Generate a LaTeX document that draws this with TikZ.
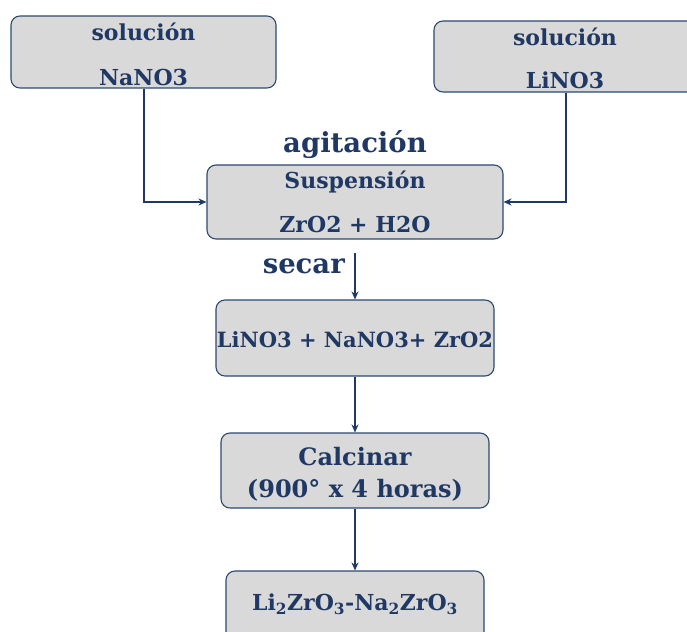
\documentclass[tikz,border=0pt]{standalone}
\usepackage{fontspec}
\setmainfont{DejaVu Serif}
\usetikzlibrary{arrows.meta}
\definecolor{navy}{HTML}{1F3864}
\definecolor{edge}{HTML}{2E4A70}
\definecolor{boxfill}{HTML}{D9D9D9}
\tikzset{
  procbox/.style={draw=edge, line width=1.1pt, fill=boxfill, rounded corners=9pt, inner sep=0pt},
  txt/.style={text=navy, font=\bfseries\fontsize{22}{26}\selectfont, inner sep=0pt, anchor=center},
  midtxt/.style={text=navy, font=\bfseries\fontsize{21}{25}\selectfont, inner sep=0pt, anchor=center},
  caltxt/.style={text=navy, font=\bfseries\fontsize{24}{28}\selectfont, inner sep=0pt, anchor=center},
  bigtxt/.style={text=navy, font=\bfseries\fontsize{27.5}{32}\selectfont, inner sep=0pt},
  conn/.style={draw=navy, line width=1.1pt, -{Stealth[length=8pt,width=7pt]}}
}
\begin{document}
\begin{tikzpicture}[x=1pt,y=-1pt]
\useasboundingbox (0,0) rectangle (687,631);
\clip (0,0) rectangle (687,631);
% boxes
\node[procbox, minimum width=265pt, minimum height=72pt] (na) at (143.5,52) {};
\node[procbox, minimum width=270pt, minimum height=71pt] (li) at (569,56.5) {};
\node[procbox, minimum width=296pt, minimum height=74pt] (sus) at (355,202) {};
\node[procbox, minimum width=278pt, minimum height=76pt] (mix) at (355,338) {};
\node[procbox, minimum width=268pt, minimum height=75pt] (cal) at (355,470.5) {};
\node[procbox, minimum width=258pt, minimum height=80pt] (fin) at (355,611) {};
% texts
\node[txt] (na1) at (143.5,32) {solución};
\node[txt] (na2) at (143.5,77) {NaNO3};
\node[txt] (li1) at (565,37) {solución};
\node[txt] (li2) at (565,80) {LiNO3};
\node[bigtxt] (ag) at (355,145) {agitación};
\node[txt] (s1) at (355,182) {Suspensión};
\node[txt] (s2) at (355,224) {ZrO2 + H2O};
\node[bigtxt, anchor=east] (sec) at (345,266) {secar};
\node[midtxt] (m1) at (355,340) {LiNO3 + NaNO3+ ZrO2};
\node[caltxt] (c1) at (355,457) {Calcinar};
\node[caltxt] (c2) at (355,490) {(900° x 4 horas)};
\node[txt] (f1) at (355,604) {Li\textsubscript{2}ZrO\textsubscript{3}-Na\textsubscript{2}ZrO\textsubscript{3}};
% connectors
\coordinate (nabend) at (144,202);
\coordinate (libend) at (566,202);
\draw[conn] (na.south -| nabend) -- (nabend) -- (sus.west);
\draw[conn] (li.south -| libend) -- (libend) -- (sus.east);
\coordinate (s0) at (355,253);
\draw[conn] (s0) -- (mix.north);
\draw[conn] (mix.south) -- (cal.north);
\draw[conn] (cal.south) -- (fin.north);
\end{tikzpicture}
\end{document}
